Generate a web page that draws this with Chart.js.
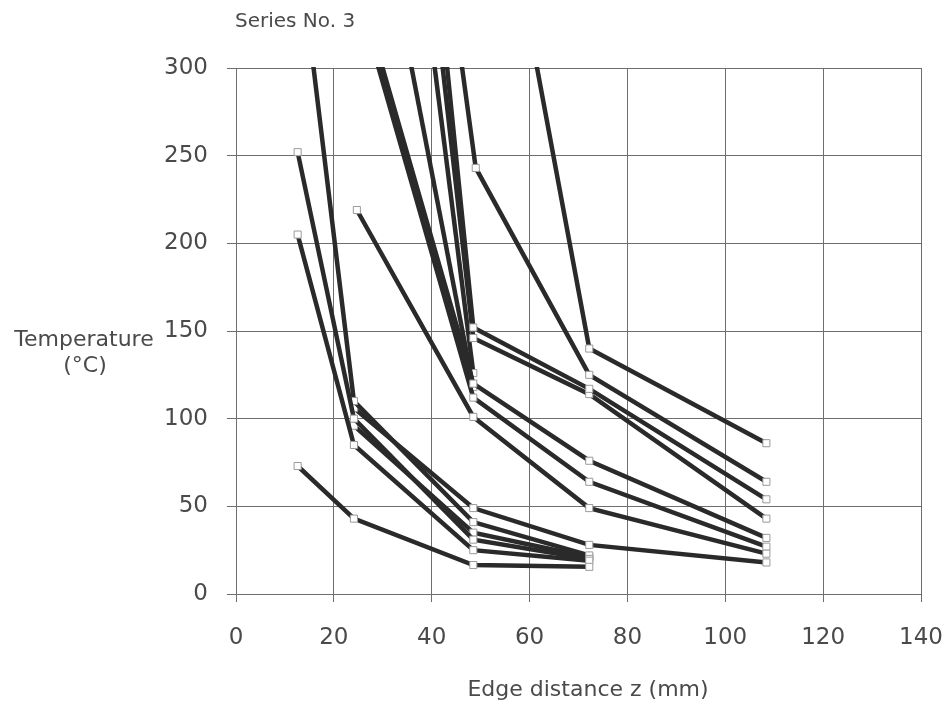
<!DOCTYPE html>
<html>
<head>
<meta charset="utf-8">
<script src="https://cdn.jsdelivr.net/npm/chart.js@4.4.1/dist/chart.umd.min.js"></script>
<style>
  html, body { margin: 0; padding: 0; background: #fff; }
  #wrap { width: 946px; height: 706px; }
</style>
</head>
<body>
<div id="wrap"><canvas id="edge-chart" width="946" height="706"></canvas></div>
<script>
// Series No. 3 — temperature vs edge distance, one line per measuring run
const xTicks = [0, 20, 40, 60, 80, 100, 120, 140];
const yTicks = [0, 50, 100, 150, 200, 250, 300];

// edge distance z (mm) / temperature (°C) per run
const run01Z = [12.6, 24.1, 48.5, 72.2];        const run01T = [73, 43, 16.5, 15.5];
const run02Z = [12.6, 24.1, 48.5, 72.2];        const run02T = [205, 85, 25, 19];
const run03Z = [12.6, 24.1, 48.5, 72.2];        const run03T = [252, 100, 31, 20];
const run04Z = [12.6, 24.1, 48.5, 72.2];        const run04T = [375, 110, 41, 22];
const run05Z = [24.1, 48.5, 72.2, 108.4];       const run05T = [106, 49, 28, 18];
const run06Z = [24.1, 48.5, 72.2];              const run06T = [96, 35, 21];
const run07Z = [24.7, 48.5, 72.2, 108.4];       const run07T = [219, 101, 49, 23];
const run08Z = [24, 48.5, 72.2, 108.4];         const run08T = [358, 120, 76, 32];
const run09Z = [24, 48.5, 72.2, 108.4];         const run09T = [350, 112, 64, 27];
const run10Z = [30, 48.5];                      const run10T = [385, 118];
const run11Z = [41, 48.5, 72.2, 108.4];         const run11T = [360, 152, 117, 54];
const run12Z = [39, 48.5, 72.2, 108.4];         const run12T = [380, 146, 114, 43];
const run13Z = [37, 48.5];                      const run13T = [380, 126];
const run14Z = [45, 49, 72.2, 108.4];           const run14T = [325, 243, 125, 64];
const run15Z = [60, 72.2, 108.4];               const run15T = [323, 140, 86];

const runs = [
    [run01Z, run01T], [run02Z, run02T], [run03Z, run03T], [run04Z, run04T], [run05Z, run05T],
    [run06Z, run06T], [run07Z, run07T], [run08Z, run08T], [run09Z, run09T], [run10Z, run10T],
    [run11Z, run11T], [run12Z, run12T], [run13Z, run13T], [run14Z, run14T], [run15Z, run15T]
];

const INK = '#2a2a2a';
const TEXT = '#4a4a4a';
const FONT = '"DejaVu Sans", "Liberation Sans", Arial, sans-serif';

const datasets = runs.map(([zs, ts], i) => ({
    label: 'run ' + (i + 1),
    data: zs.map((z, k) => ({ x: z, y: ts[k] })),
    showLine: true,
    borderColor: INK,
    borderWidth: 4.5,
    pointStyle: 'rect',
    pointRadius: ts.map(t => t > 300 ? 0 : 5),
    pointBackgroundColor: '#fff',
    pointBorderColor: '#9a9a9a',
    pointBorderWidth: 1,
    clip: 1
}));

// loose texts: caption, horizontal y title, x title
const captions = {
    id: 'captions',
    afterDraw(chart) {
        const ctx = chart.ctx;
        ctx.save();
        ctx.fillStyle = TEXT;
        ctx.textBaseline = 'middle';
        ctx.font = '20px ' + FONT;
        ctx.textAlign = 'left';
        ctx.fillText('Series No. 3', 235, 22);
        ctx.font = '22px ' + FONT;
        ctx.textAlign = 'center';
        ctx.fillText('Temperature', 84, 340);
        ctx.fillText('(°C)', 85, 366);
        ctx.fillText('Edge distance z (mm)', 588, 690);
        ctx.restore();
    }
};

new Chart(document.getElementById('edge-chart'), {
    type: 'scatter',
    data: { datasets },
    options: {
        responsive: false,
        animation: false,
        devicePixelRatio: 1,
        layout: { padding: { left: 0, top: 68, right: 25, bottom: 0 } },
        plugins: { legend: { display: false }, tooltip: { enabled: false }, title: { display: false } },
        scales: {
            x: {
                type: 'linear', min: 0, max: 140,
                afterBuildTicks: s => { s.ticks = xTicks.map(v => ({ value: v })); },
                afterFit: s => { s.height = 112; s.paddingLeft = 0; s.paddingRight = 0; },
                grid: { color: '#6e6e6e', lineWidth: 1, tickLength: 8 },
                border: { color: '#6e6e6e' },
                ticks: { color: TEXT, font: { family: FONT, size: 23 }, padding: 22, maxRotation: 0 }
            },
            y: {
                type: 'linear', min: 0, max: 300,
                afterBuildTicks: s => { s.ticks = yTicks.map(v => ({ value: v })); },
                afterFit: s => { s.width = 236; s.paddingTop = 0; s.paddingBottom = 0; },
                grid: { color: '#6e6e6e', lineWidth: 1, tickLength: 9 },
                border: { color: '#6e6e6e' },
                ticks: { color: TEXT, font: { family: FONT, size: 23 }, padding: 19 }
            }
        }
    },
    plugins: [captions]
});
</script>
</body>
</html>
